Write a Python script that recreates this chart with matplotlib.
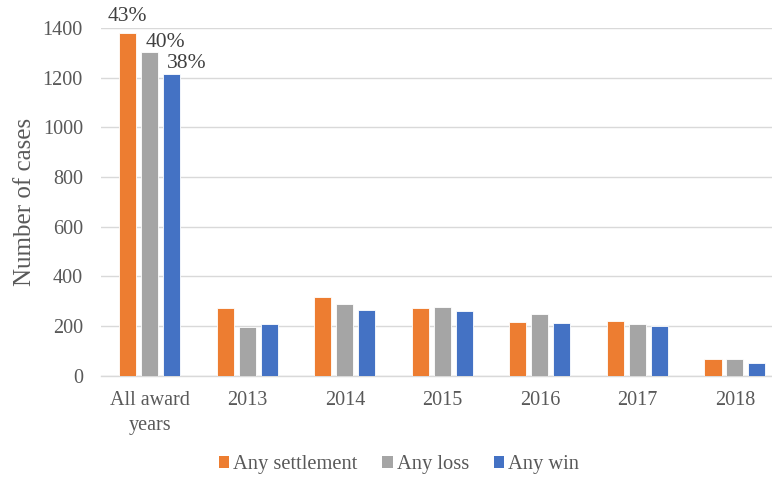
import numpy as np
import matplotlib
matplotlib.use("Agg")
import matplotlib.pyplot as plt
from matplotlib.patches import Patch

plt.rcParams["font.family"] = ["Liberation Serif", "DejaVu Serif"]

categories = ["All award\nyears", "2013", "2014", "2015", "2016", "2017", "2018"]
series_names = ["Any settlement", "Any loss", "Any win"]
settlement = [1380, 271, 318, 271, 215, 220, 66]
loss = [1302, 197, 289, 278, 247, 207, 66]
win = [1215, 208, 266, 259, 211, 201, 52]
share_labels = ["43%", "40%", "38%"]  # shares for the "All award years" group

colors = ["#ED7D31", "#A5A5A5", "#4472C4"]
text_color = "#595959"
grid_color = "#D9D9D9"

fig = plt.figure(figsize=(7.72, 4.79), dpi=100)
ax = fig.add_axes([101 / 772, 1 - 375.7 / 479, 671 / 772, (375.7 - 28) / 479])

x = np.arange(len(categories))
width = 0.175
step = 0.225
all_series = [settlement, loss, win]
bar_groups = []
for i, (vals, c) in enumerate(zip(all_series, colors)):
    bars = ax.bar(x + (i - 1) * step, vals, width, color=c,
                  edgecolor="white", linewidth=0.6, zorder=3)
    bar_groups.append(bars)

# percentage labels over the first group
label_offsets = [(0, 5), (11, 0), (11, 1)]
for bars, lab, (dx, dy) in zip(bar_groups, share_labels, label_offsets):
    b = bars[0]
    ax.annotate(lab, (b.get_x() + b.get_width() / 2, b.get_height()),
                xytext=(dx, dy), textcoords="offset points",
                ha="center", va="bottom", fontsize=15.5, color="#404040",
                annotation_clip=False)

ax.set_ylim(0, 1400)
ax.set_yticks(range(0, 1401, 200))
ax.set_xlim(-0.5, 6.38)
ax.set_xticks(x)
ax.set_xticklabels(categories, linespacing=1.45)
ax.yaxis.grid(True, color=grid_color, linewidth=1.0, zorder=0)
ax.set_axisbelow(True)
for s in ["top", "right", "left"]:
    ax.spines[s].set_visible(False)
ax.spines["bottom"].set_color(grid_color)
ax.spines["bottom"].set_linewidth(1.0)
ax.tick_params(axis="y", length=0, pad=13, labelsize=14.5, labelcolor=text_color)
ax.tick_params(axis="x", length=0, pad=11, labelsize=14.5, labelcolor=text_color)
ax.set_ylabel("Number of cases", fontsize=18, color=text_color, labelpad=5)

handles = [Patch(facecolor=c, edgecolor="none") for c in colors]
fig.legend(handles, series_names, loc="center", bbox_to_anchor=(399 / 772, 1 - 465 / 479),
           ncol=3, frameon=False, fontsize=14.8, labelcolor=text_color,
           handlelength=0.5, handleheight=0.5, handletextpad=0.2, columnspacing=1.2)

fig.savefig("out.png", dpi=100)
